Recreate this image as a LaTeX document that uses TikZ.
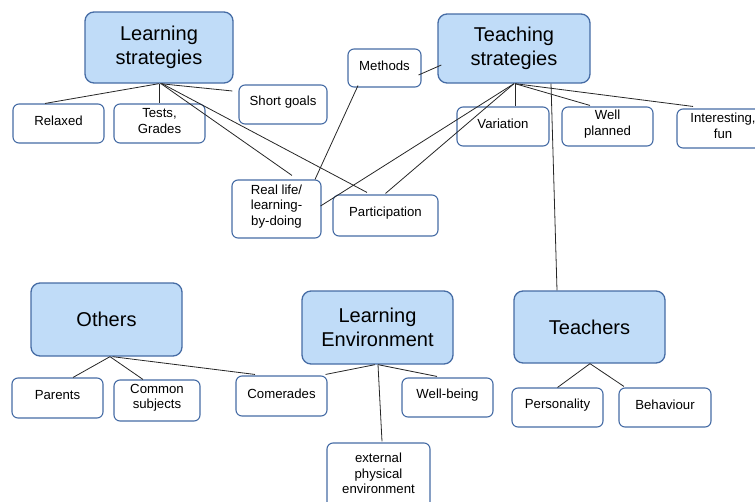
\documentclass[tikz,border=0pt]{standalone}
\usepackage{fontspec}
\setmainfont{Liberation Sans}
\usetikzlibrary{calc}
\definecolor{boxblue}{RGB}{70,108,165}
\definecolor{fillblue}{RGB}{192,220,248}
\begin{document}
\begin{tikzpicture}[x=1pt,y=-1pt,
  mainbox/.style={draw=boxblue, line width=1.3pt, fill=fillblue, rounded corners=9pt,
    align=center, font=\fontsize{20}{23.5}\selectfont, inner sep=0pt},
  subbox/.style={draw=boxblue, line width=1.1pt, fill=white, rounded corners=6pt, inner sep=0pt},
  txt/.style={label={[font=\fontsize{13.2}{15.5}\selectfont, align=center, inner sep=0pt, yshift=2.5pt]center:{#1}}},
  link/.style={draw=black!85, line width=0.8pt}]
\useasboundingbox (0,0) rectangle (755,501);

% main boxes
\node[mainbox, minimum width=148pt, minimum height=71pt] (ls) at (159,47.5) {Learning\\strategies};
\node[mainbox, minimum width=152pt, minimum height=69pt] (ts) at (514,48.5) {Teaching\\strategies};
\node[mainbox, minimum width=151pt, minimum height=73pt] (oth) at (106.5,319.5) {Others};
\node[mainbox, minimum width=151pt, minimum height=73pt] (le) at (377.5,327.5) {Learning\\Environment};
\node[mainbox, minimum width=151pt, minimum height=72pt] (tea) at (589.5,327) {Teachers};

% sub boxes
\node[subbox, minimum width=73pt, minimum height=38pt, txt={Methods}] (meth) at (384.5,68) {};
\node[subbox, minimum width=91pt, minimum height=39pt, txt={Relaxed}] (rel) at (58.5,123.5) {};
\node[subbox, minimum width=91pt, minimum height=39pt, txt={Tests,\\Grades}] (tests) at (159.5,123.5) {};
\node[subbox, minimum width=88pt, minimum height=39pt, txt={Short goals}] (sg) at (283,104.5) {};
\node[subbox, minimum width=89pt, minimum height=58pt, txt={Real life/\\learning-\\by-doing}] (rl) at (276.5,209) {};
\node[subbox, minimum width=105pt, minimum height=41pt, txt={Participation}] (part) at (385.5,215.5) {};
\node[subbox, minimum width=92pt, minimum height=39pt, txt={Variation}] (var) at (503,126.5) {};
\node[subbox, minimum width=91pt, minimum height=39pt, txt={Well\\planned}] (wp) at (607.5,126.5) {};
\node[subbox, minimum width=92pt, minimum height=39pt, txt={Interesting,\\fun}] (int) at (723,128.5) {};
\node[subbox, minimum width=91pt, minimum height=40pt, txt={Parents}] (par) at (57.5,398) {};
\node[subbox, minimum width=86pt, minimum height=41pt, txt={Common\\subjects}] (com) at (157,400.5) {};
\node[subbox, minimum width=91pt, minimum height=40pt, txt={Comerades}] (cam) at (281.5,396) {};
\node[subbox, minimum width=103pt, minimum height=66pt, txt={external\\physical\\environment}] (ext) at (378.5,476) {};
\node[subbox, minimum width=91pt, minimum height=39pt, txt={Well-being}] (wb) at (447.5,397.5) {};
\node[subbox, minimum width=91pt, minimum height=39pt, txt={Personality}] (pers) at (557.5,407.5) {};
\node[subbox, minimum width=92pt, minimum height=39pt, txt={Behaviour}] (beh) at (665,407.5) {};

% connectors
\draw[link] ($(ls.south)+(0,0)$) -- ($(rel.north)+(-13.5,0)$);
\draw[link] ($(ls.south)+(0.5,0)$) -- (tests.north);
\draw[link] ($(ls.south)+(1,0)$) -- ($(sg.west)+(-6,-13.5)$);
\draw[link] ($(ls.south)+(2,0)$) -- ($(rl.north)+(15.5,-4)$);
\draw[link] ($(ls.south)+(3,0)$) -- ($(part.north)+(-18.5,-2)$);
\draw[link] ($(meth.south)+(-26.5,-2)$) -- ($(rl.north)+(38.5,0)$);
\draw[link] ($(meth.east)+(-3,7)$) -- ($(ts.west)+(4,16.5)$);
\draw[link] ($(ts.south)+(1,0)$) -- ($(var.north)+(12,0)$);
\draw[link] (ts.south) -- ($(rl.east)+(-1,-3)$);
\draw[link] (ts.south) -- ($(part.north)+(0,-1)$);
\draw[link] ($(ts.south)+(1,0)$) -- ($(wp.north)+(-17.5,-1)$);
\draw[link] ($(ts.south)+(1,0)$) -- ($(int.north)+(-30,-2)$);
\draw[link] ($(ts.south)+(37,0)$) -- ($(tea.north)+(-32.5,0)$);
\draw[link] ($(oth.south)+(3.5,0)$) -- ($(par.north)+(15.5,0)$);
\draw[link] ($(oth.south)+(3.5,0)$) -- ($(com.north)+(-14,0)$);
\draw[link] ($(oth.south)+(6,0)$) -- ($(cam.north)+(-26.5,-1)$);
\draw[link] ($(le.south)+(-2.5,0)$) -- ($(cam.north east)+(-2,-1)$);
\draw[link] ($(le.south)+(0.5,0)$) -- ($(ext.north)+(3.5,-1)$);
\draw[link] ($(le.south)+(0.5,0)$) -- ($(wb.north)+(-10.5,-1)$);
\draw[link] ($(tea.south)+(0.5,0)$) -- (pers.north);
\draw[link] ($(tea.south)+(0.5,0)$) -- ($(beh.north)+(-41,-1)$);
\end{tikzpicture}
\end{document}
